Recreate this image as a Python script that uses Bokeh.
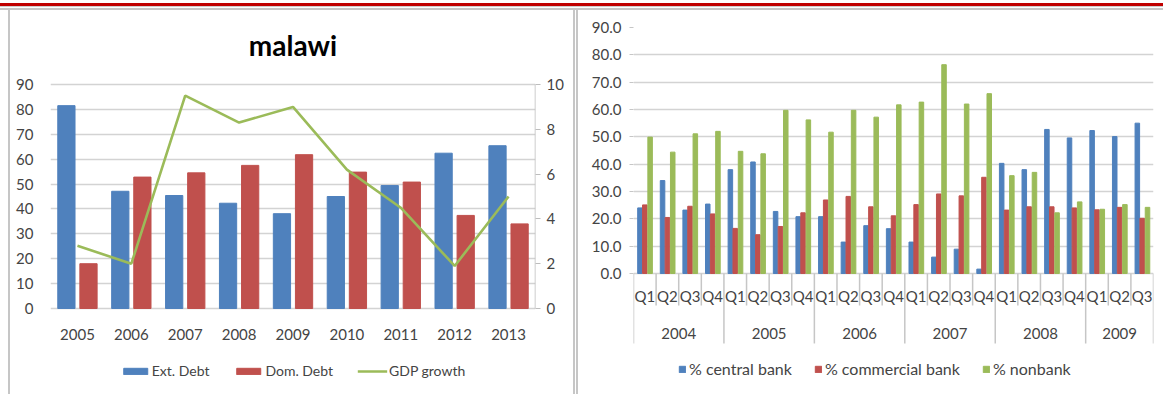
from bokeh.plotting import figure
from bokeh.models import (ColumnDataSource, FactorRange, Range1d, LinearAxis, FixedTicker,
                          Legend, LegendItem, Div, NumeralTickFormatter, Label)
from bokeh.layouts import row, column
from bokeh.transform import dodge
from bokeh.core.properties import value
from bokeh.embed import file_html
from bokeh.resources import INLINE

# ---------------- data: left chart (malawi) ----------------
chart_title = "malawi"
years = ["2005", "2006", "2007", "2008", "2009", "2010", "2011", "2012", "2013"]
ext_debt = [81.5, 47.1, 45.4, 42.3, 38.1, 45.0, 49.4, 62.4, 65.4]
dom_debt = [18.0, 52.8, 54.5, 57.5, 61.8, 54.8, 50.8, 37.4, 34.0]
gdp_growth = [2.8, 2.0, 9.5, 8.3, 9.0, 6.2, 4.5, 1.9, 5.0]
left_ticks = [0, 10, 20, 30, 40, 50, 60, 70, 80, 90]
right_ticks = [0, 2, 4, 6, 8, 10]

# ---------------- data: right chart ----------------
q_years = ["2004", "2005", "2006", "2007", "2008", "2009"]
q_counts = [4, 4, 4, 4, 4, 3]
quarter_names = ["Q1", "Q2", "Q3", "Q4"]
central_bank = [24.0, 34.0, 23.2, 25.4, 38.0, 40.8, 22.7, 20.8, 20.8, 11.5, 17.5, 16.4,
                11.5, 6.0, 8.9, 1.6, 40.3, 38.0, 52.7, 49.6, 52.3, 50.1, 55.0]
commercial_bank = [25.1, 20.5, 24.6, 21.8, 16.5, 14.2, 17.2, 22.2, 26.9, 28.2, 24.4, 21.1,
                   25.2, 29.1, 28.4, 35.2, 23.2, 24.4, 24.4, 24.0, 23.3, 24.2, 20.2]
nonbank = [49.9, 44.4, 51.1, 52.0, 44.7, 43.8, 59.7, 56.2, 51.7, 59.7, 57.2, 61.7,
           62.7, 76.4, 62.0, 65.8, 35.8, 37.0, 22.2, 26.2, 23.5, 25.2, 24.2]
r_ticks = [0, 10, 20, 30, 40, 50, 60, 70, 80, 90]

BLUE, RED, GREEN = "#4F81BD", "#C0504D", "#9BBB59"
GRID = "#d3d3d3"
TXT = "#444444"
FONT = "Lato"
BORDER = "#c6c6c6"

# ================= left figure =================
# the frame spans the whole panel height; the value axis 0..90 sits inside it
L_TOP, L_BOTTOM = 112.9, -34.55
src1 = ColumnDataSource(dict(year=years, ext=ext_debt, dom=dom_debt, gdp=gdp_growth))
xr1 = FactorRange(factors=years, range_padding=0)
p1 = figure(width=563, height=384, x_range=xr1, y_range=Range1d(L_BOTTOM, L_TOP),
            title=None, x_axis_location=None, output_backend="svg", toolbar_location=None,
            min_border_left=40, min_border_right=38, min_border_top=17, min_border_bottom=0)
p1.extra_y_ranges = {"gdp": Range1d(L_BOTTOM / 9.0, L_TOP / 9.0)}
p1.outline_line_color = None

p1.xgrid.grid_line_color = None
p1.ygrid.ticker = FixedTicker(ticks=left_ticks)
p1.ygrid.grid_line_color = GRID
p1.ygrid.grid_line_width = 1.6

r_ext = p1.vbar(x=dodge("year", -0.205, range=xr1), top="ext", width=0.32,
                source=src1, fill_color=BLUE, line_color=BLUE)
r_dom = p1.vbar(x=dodge("year", 0.205, range=xr1), top="dom", width=0.32,
                source=src1, fill_color=RED, line_color=RED)
r_gdp = p1.line(x="year", y="gdp", y_range_name="gdp", source=src1,
                line_color=GREEN, line_width=2.6)

p1.add_layout(Label(x=len(years) / 2, y=105.8, text=chart_title, text_align="center",
                    text_baseline="middle", text_font=FONT, text_font_size="28px",
                    text_font_style="bold", text_color="#000000"))

# category labels under the bars
p1.text(x="year", y=-10.4, text="year", source=src1, text_font=value(FONT),
        text_font_size="15px", text_align="center", text_baseline="middle", text_color=TXT)
# secondary axis line (0..10 only)
p1.segment(x0=[len(years)], x1=[len(years)], y0=[0], y1=[right_ticks[-1]], y_range_name="gdp",
           line_color="#bdbdbd", line_width=1.5)

ya = p1.yaxis[0]
ya.ticker = FixedTicker(ticks=left_ticks)
ya.axis_line_color = None
ya.major_tick_line_color = None
ya.minor_tick_line_color = None
ya.major_label_standoff = 11
ya.major_label_text_font = FONT
ya.major_label_text_font_size = "15px"
ya.major_label_text_color = TXT

ax2 = LinearAxis(y_range_name="gdp", ticker=FixedTicker(ticks=right_ticks))
ax2.axis_line_color = None
ax2.major_tick_line_color = "#bdbdbd"
ax2.major_tick_out = 5
ax2.major_tick_in = 0
ax2.minor_tick_line_color = None
ax2.major_label_standoff = 6
ax2.major_label_text_font = FONT
ax2.major_label_text_font_size = "15px"
ax2.major_label_text_color = TXT
p1.add_layout(ax2, "right")

leg1 = Legend(items=[LegendItem(label="Ext. Debt", renderers=[r_ext]),
                     LegendItem(label="Dom. Debt", renderers=[r_dom]),
                     LegendItem(label="GDP growth", renderers=[r_gdp])],
              orientation="horizontal", location="bottom_center", glyph_width=30,
              glyph_height=8, label_standoff=2, spacing=24, padding=5, margin=15,
              border_line_color=None, background_fill_alpha=0,
              label_text_font=FONT, label_text_font_size="14px", label_text_color=TXT)
p1.add_layout(leg1)

# ================= right figure =================
R_BOTTOM = -44.27
factors = []
for yr, n in zip(q_years, q_counts):
    for q in quarter_names[:n]:
        factors.append((yr, q))

src2 = ColumnDataSource(dict(x=factors, cb=central_bank, com=commercial_bank, nb=nonbank,
                             q=[f[1] for f in factors]))
xr2 = FactorRange(factors=factors, factor_padding=0, group_padding=0, subgroup_padding=0,
                  range_padding=0)
p2 = figure(width=585, height=384, x_range=xr2, y_range=Range1d(R_BOTTOM, r_ticks[-1]),
            title=None, x_axis_location=None, output_backend="svg", toolbar_location=None,
            min_border_left=55, min_border_right=10, min_border_top=17, min_border_bottom=0)
p2.outline_line_color = None

p2.xgrid.grid_line_color = None
p2.ygrid.ticker = FixedTicker(ticks=r_ticks)
p2.ygrid.grid_line_color = GRID
p2.ygrid.grid_line_width = 1.6

r_cb = p2.vbar(x=dodge("x", -0.215, range=xr2), top="cb", width=0.2, source=src2,
               fill_color=BLUE, line_color=BLUE)
r_com = p2.vbar(x=dodge("x", 0.0, range=xr2), top="com", width=0.2, source=src2,
                fill_color=RED, line_color=RED)
r_nb = p2.vbar(x=dodge("x", 0.235, range=xr2), top="nb", width=0.2, source=src2,
               fill_color=GREEN, line_color=GREEN)

ya2 = p2.yaxis[0]
ya2.ticker = FixedTicker(ticks=r_ticks)
ya2.formatter = NumeralTickFormatter(format="0.0")
ya2.axis_line_color = None
ya2.major_tick_line_color = BORDER
ya2.major_tick_out = 4
ya2.major_tick_in = 0
ya2.minor_tick_line_color = None
ya2.major_label_standoff = 8
ya2.major_label_text_font = FONT
ya2.major_label_text_font_size = "15px"
ya2.major_label_text_color = TXT

# category separators (multi-level axis look)
n_fac = len(factors)
year_bounds = [0]
for n in q_counts:
    year_bounds.append(year_bounds[-1] + n)
q_bounds = [b for b in range(n_fac + 1) if b not in year_bounds]
p2.segment(x0=q_bounds, x1=q_bounds, y0=[0] * len(q_bounds), y1=[-11.7] * len(q_bounds),
           line_color=BORDER, line_width=1.5)
p2.segment(x0=year_bounds, x1=year_bounds, y0=[0] * len(year_bounds),
           y1=[-25.6] * len(year_bounds), line_color=BORDER, line_width=1.5)

p2.text(x="x", y=-8.4, text="q", source=src2, text_font=value(FONT), text_font_size="15px",
        text_align="center", text_baseline="middle", text_color=TXT)
year_centers = [(year_bounds[i] + year_bounds[i + 1]) / 2 for i in range(len(q_years))]
p2.text(x=year_centers, y=[-22.0] * len(q_years), text=q_years, text_font=value(FONT),
        text_font_size="15px", text_align="center", text_baseline="middle", text_color=TXT)

leg2 = Legend(items=[LegendItem(label="% central bank", renderers=[r_cb]),
                     LegendItem(label="% commercial bank", renderers=[r_com]),
                     LegendItem(label="% nonbank", renderers=[r_nb])],
              orientation="horizontal", location=(45, 16), glyph_width=8,
              glyph_height=8, label_standoff=3, spacing=22, padding=5, margin=0,
              border_line_color=None, background_fill_alpha=0,
              label_text_font=FONT, label_text_font_size="16px", label_text_color=TXT)
p2.add_layout(leg2)


def bar(w, h, bg):
    return Div(text="", width=w, height=h, margin=0, styles={"background": bg})


top_bar = bar(1163, 10, "linear-gradient(to bottom, #ffffff 0px, #ffffff 3px, #c00000 3px, "
                        "#c00000 6px, #d0d0d0 6px, #d0d0d0 7px, #ffffff 7px, #ffffff 8px, "
                        "#c6c6c6 8px, #c6c6c6 10px)")
gap_l = bar(8, 384, "#ffffff")
edge1 = bar(2, 384, BORDER)
edge2 = bar(2, 384, BORDER)
gap_m = bar(1, 384, "#ffffff")
edge3 = bar(2, 384, BORDER)
layout = column(top_bar, row(gap_l, edge1, p1, edge2, gap_m, edge3, p2, spacing=0),
                spacing=0)

open("out.html", "w").write(file_html(layout, INLINE))
